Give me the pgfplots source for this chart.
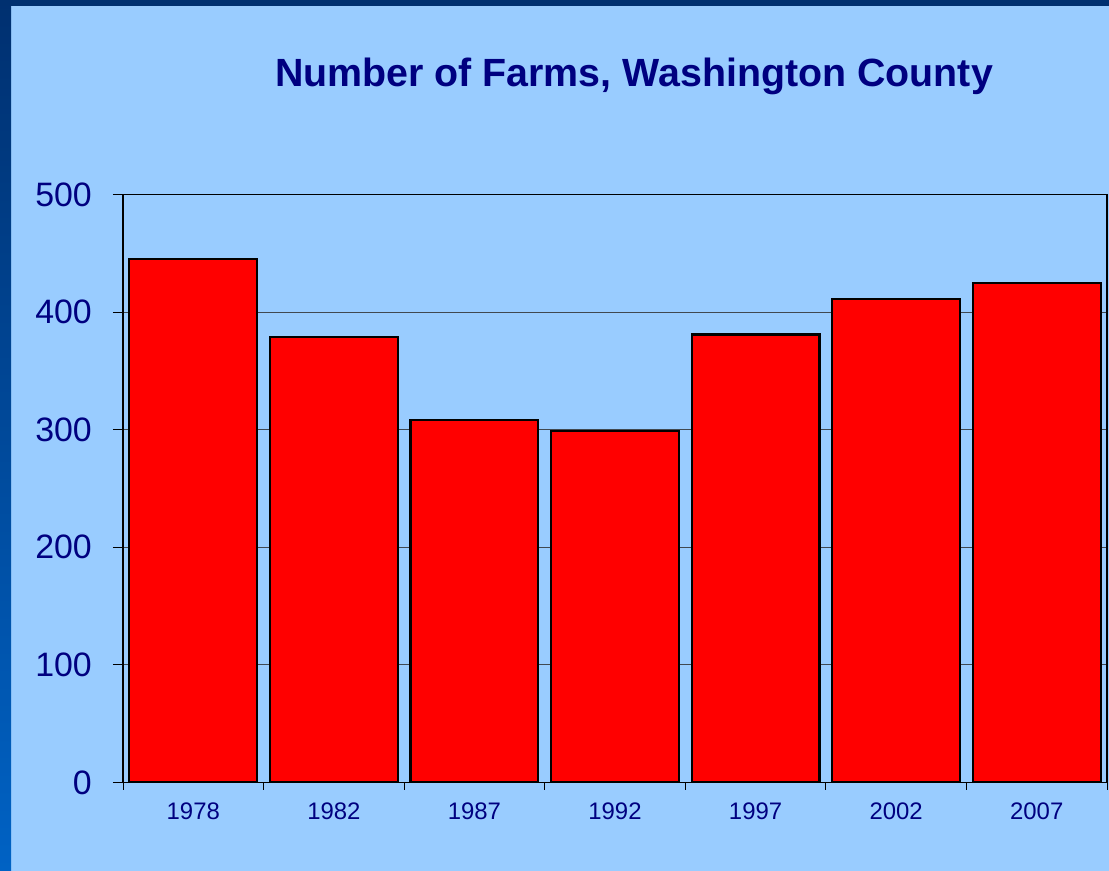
\documentclass[border=0pt]{standalone}
\usepackage{fontspec}
\setmainfont{Liberation Sans}
\usepackage{pgfplots}
\pgfplotsset{compat=1.18}
\definecolor{bgblue}{HTML}{99CCFF}
\definecolor{navy}{HTML}{000080}
\definecolor{bandtop}{HTML}{003070}
\definecolor{bandbot}{HTML}{0062C4}
\definecolor{gridgray}{HTML}{404850}
\begin{document}
\begin{tikzpicture}
\useasboundingbox (0bp,0bp) rectangle (1109bp,871bp);
\fill[bgblue] (0bp,0bp) rectangle (1109bp,871bp);
\shade[top color=bandtop, bottom color=bandbot] (0bp,0bp) rectangle (11bp,871bp);
\fill[bandtop] (0bp,865bp) rectangle (1109bp,871bp);
\node[anchor=base, font=\bfseries\fontsize{39.5}{47}\selectfont, text=navy, inner sep=0pt] at (634bp,784bp) {Number of Farms, Washington County};
\begin{axis}[
  at={(123bp,88.5bp)}, anchor=south west,
  scale only axis, width=984bp, height=588bp,
  xmin=-0.5, xmax=6.5, ymin=0, ymax=500,
  axis line style={black, line width=1.3bp},
  tick align=outside,
  xtick pos=lower, ytick pos=left,
  ytick={0,100,...,500},
  ymajorgrids,
  major grid style={gridgray, line width=0.9bp},
  major y tick style={black, line width=0.8bp},
  major tick length=10bp,
  xtick={0,...,6},
  xticklabels={1978,1982,1987,1992,1997,2002,2007},
  major x tick style={draw=none},
  extra x ticks={-0.5,0.5,1.5,2.5,3.5,4.5,5.5,6.5},
  extra x tick labels={},
  extra x tick style={major tick length=7bp, major x tick style={draw=black, line width=0.8bp}, grid=none},
  /pgf/number format/assume math mode=true,
  yticklabel style={font=\fontsize{34}{40}\selectfont, text=navy, anchor=east, inner sep=0pt, xshift=-21bp},
  xticklabel style={font=\fontsize{24}{29}\selectfont, text=navy, anchor=north, inner sep=0pt, yshift=-10bp},
  ybar, bar width=0.91,
]
\addplot[fill=red, draw=black, line width=2.2bp] coordinates {(0,445) (1,379) (2,308) (3,299) (4,381) (5,411) (6,425)};
\end{axis}
\end{tikzpicture}
\end{document}
